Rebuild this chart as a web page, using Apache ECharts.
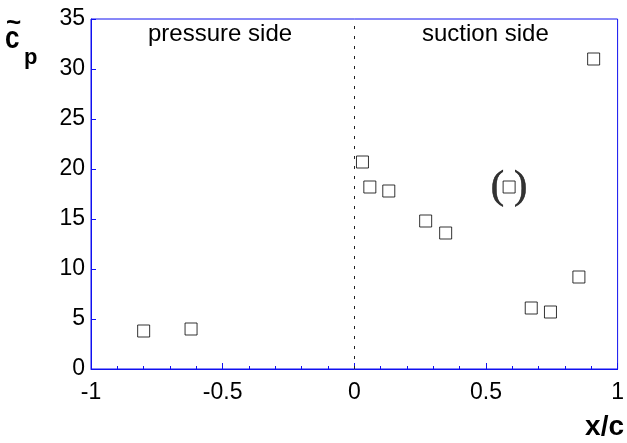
<!DOCTYPE html>
<html>
<head>
<meta charset="utf-8">
<script src="https://cdn.jsdelivr.net/npm/echarts@6/dist/echarts.min.js"></script>
<style>
  html, body { margin: 0; padding: 0; background: #fff; }
  #chart { width: 627px; height: 443px; }
</style>
</head>
<body>
<div id="chart"></div>
<script>
// Chordwise positions (x/c) of the pressure taps; negative = pressure side
const xOverC = [-0.80, -0.62, 0.031, 0.059, 0.131, 0.271, 0.347, 0.672, 0.745, 0.853, 0.909];
// Fluctuating pressure coefficient at each tap
const cpTilde = [3.8, 4.0, 20.7, 18.2, 17.8, 14.8, 13.6, 6.1, 5.7, 9.2, 31.0];
// Doubtful reading, shown in brackets
const doubtfulX = [0.588];
const doubtfulCp = [18.2];

const xTicks = [-1, -0.5, 0, 0.5, 1];
const yTicks = [0, 5, 10, 15, 20, 25, 30, 35];

const AXIS_BLUE = '#1010f0';
const FONT = 'Liberation Sans, Arial, sans-serif';

const chart = echarts.init(document.getElementById('chart'));

const squareStyle = {
  color: '#ffffff',
  borderColor: '#000000',
  borderWidth: 1
};

chart.setOption({
  animation: false,
  backgroundColor: '#ffffff',
  grid: {
    left: 91, right: 9, top: 19, bottom: 74,
    show: true,
    borderColor: AXIS_BLUE,
    borderWidth: 1,
    backgroundColor: 'transparent'
  },
  xAxis: {
    type: 'value',
    min: xTicks[0],
    max: xTicks[xTicks.length - 1],
    interval: 0.5,
    axisLine: { show: true, onZero: false, lineStyle: { color: AXIS_BLUE, width: 1 } },
    axisTick: { show: true, inside: true, length: 6, lineStyle: { color: AXIS_BLUE } },
    minorTick: { show: true, splitNumber: 5, length: 3, lineStyle: { color: AXIS_BLUE } },
    splitLine: { show: false },
    axisLabel: {
      color: '#000', fontFamily: FONT, fontSize: 23, margin: 12,
      formatter: v => String(v)
    }
  },
  yAxis: {
    type: 'value',
    min: yTicks[0],
    max: yTicks[yTicks.length - 1],
    interval: 5,
    axisLine: { show: true, onZero: false, lineStyle: { color: AXIS_BLUE, width: 1 } },
    axisTick: { show: true, inside: true, length: 5, lineStyle: { color: AXIS_BLUE } },
    splitLine: { show: false },
    axisLabel: { color: '#000', fontFamily: FONT, fontSize: 23, margin: 6 }
  },
  series: [
    {
      type: 'scatter',
      symbol: 'rect',
      symbolSize: 12,
      itemStyle: squareStyle,
      data: xOverC.map((x, i) => [x, cpTilde[i]]),
      markLine: {
        silent: true,
        symbol: 'none',
        label: { show: false },
        lineStyle: { color: '#222', width: 1, type: [3, 7] },
        data: [{ xAxis: 0 }]
      },
      z: 3
    },
    {
      type: 'scatter',
      symbol: 'rect',
      symbolSize: 12,
      itemStyle: squareStyle,
      data: doubtfulX.map((x, i) => [x, doubtfulCp[i]]),
      label: {
        show: true,
        position: 'inside',
        formatter: '{p|(}{gap|}{p|)}',
        rich: {
          p: {
            fontFamily: 'Liberation Serif, Times New Roman, serif', fontSize: 40,
            color: '#000', textBorderColor: '#000', textBorderWidth: 0.6
          },
          gap: { width: 10 }
        }
      },
      z: 3
    }
  ],
  graphic: [
    { type: 'text', left: 148, top: 22,
      style: { text: 'pressure side', font: '24px ' + FONT, fill: '#000' } },
    { type: 'text', left: 422, top: 22,
      style: { text: 'suction side', font: '24px ' + FONT, fill: '#000' } },
    // axis title: c with tilde and subscript p
    { type: 'text', x: 6, y: 11,
      style: { text: '~', font: 'bold 26px ' + FONT, fill: '#000' } },
    { type: 'text', x: 5, y: 24, scaleY: 1.2,
      style: { text: 'c', font: 'bold 26px ' + FONT, fill: '#000' } },
    { type: 'text', x: 24, y: 47,
      style: { text: 'p', font: 'bold 22px ' + FONT, fill: '#000' } },
    { type: 'text', right: 3, top: 413,
      style: { text: 'x/c', font: 'bold 28px ' + FONT, fill: '#000' } }
  ]
});
</script>
</body>
</html>
